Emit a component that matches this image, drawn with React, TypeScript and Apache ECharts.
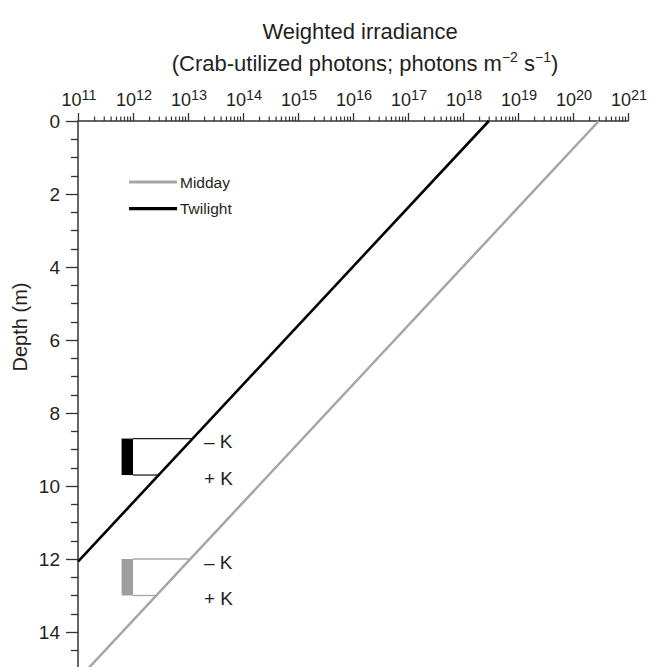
import React, { useEffect, useRef } from 'react';
import * as echarts from 'echarts';

const FONT = '"Liberation Sans", Arial, Helvetica, sans-serif';
const TEXT = '#231f20';
const AXIS = '#333333';

const seriesNames = ['Midday', 'Twilight'];
const seriesColors = ['#a6a6a6', '#000000'];
const twilightIrradiance = [2.95e18, 1e11];
const twilightDepth = [0, 12.07];
const middayIrradiance = [2.95e20, 1e11];
const middayDepth = [0, 15.3];

const kBarIrradiance = [6.2e11, 1e12];
const twilightKDepth = [8.7, 9.7];
const middayKDepth = [12.0, 13.0];
const kLabels = ['\u2013 K', '+ K'];

const xMin = 1e11;
const xMax = 1e21;
const yMin = 0;
const yMax = 16;
const yInterval = 2;
const xTickExponents = [11, 12, 13, 14, 15, 16, 17, 18, 19, 20, 21];

const minorTickValues: number[] = [];
for (let e = 11; e < 21; e++) {
  for (let m = 2; m <= 9; m++) minorTickValues.push(m * Math.pow(10, e));
}

function irrAtDepth(irr: number[], depth: number[], z: number) {
  const l0 = Math.log10(irr[0]);
  const l1 = Math.log10(irr[1]);
  const t = (z - depth[0]) / (depth[1] - depth[0]);
  return Math.pow(10, l0 + t * (l1 - l0));
}

export default function App() {
  const ref = useRef<HTMLDivElement>(null);
  useEffect(() => {
    if (!ref.current) return;
    const chart = echarts.init(ref.current, undefined, { renderer: 'svg' });
    const bracketData = [
      [kBarIrradiance[0], kBarIrradiance[1], twilightKDepth[0], twilightKDepth[1], 0],
      [kBarIrradiance[0], kBarIrradiance[1], middayKDepth[0], middayKDepth[1], 1],
    ];
    const legendTops = [169, 195.6];
    const option: any = {
      animation: false,
      textStyle: { fontFamily: FONT },
      grid: { left: 78, right: 23, top: 121, height: 584, outerBoundsMode: 'none' },
      legend: seriesNames.map((n, i) => ({
        data: [{ name: n, icon: 'rect' }],
        orient: 'vertical',
        left: 124,
        top: legendTops[i],
        itemWidth: 48,
        itemHeight: 3.2,
        itemStyle: { color: seriesColors[i], borderWidth: 0 },
        textStyle: { fontSize: 15.5, color: TEXT, fontFamily: FONT, padding: [0, 0, 0, -2] },
      })),
      graphic: [
        {
          type: 'text',
          x: 360,
          y: 31,
          style: {
            text: 'Weighted irradiance',
            align: 'center',
            verticalAlign: 'middle',
            fontSize: 22,
            fontFamily: FONT,
            fill: TEXT,
          },
        },
        {
          type: 'text',
          x: 365,
          y: 63,
          style: {
            text: '(Crab-utilized photons; photons m{s|\u22122} s{s|\u22121})',
            align: 'center',
            verticalAlign: 'middle',
            fontSize: 22,
            lineHeight: 26,
            fontFamily: FONT,
            fill: TEXT,
            rich: {
              s: { fontSize: 14, lineHeight: 16, verticalAlign: 'top', fontFamily: FONT, fill: TEXT },
            },
          },
        },
        {
          type: 'text',
          x: 20,
          y: 327,
          rotation: Math.PI / 2,
          style: {
            text: 'Depth (m)',
            align: 'center',
            verticalAlign: 'middle',
            fontSize: 20,
            fontFamily: FONT,
            fill: TEXT,
          },
        },
      ],
      xAxis: {
        type: 'log',
        logBase: 10,
        position: 'top',
        min: xMin,
        max: xMax,
        interval: 1,
        axisLine: { show: true, lineStyle: { color: AXIS, width: 1.5 } },
        axisTick: { show: true, length: 8, lineStyle: { color: AXIS, width: 1.3 } },
        splitLine: { show: false },
        axisLabel: { show: false },
      },
      yAxis: {
        type: 'value',
        inverse: true,
        min: yMin,
        max: yMax,
        interval: yInterval,
        axisLine: { show: true, lineStyle: { color: AXIS, width: 1.5 } },
        axisTick: { show: true, length: 12, lineStyle: { color: AXIS, width: 1.3 } },
        minorTick: { show: true, splitNumber: 4, length: 7, lineStyle: { color: AXIS, width: 1.3 } },
        splitLine: { show: false },
        minorSplitLine: { show: false },
        axisLabel: { margin: 18, fontSize: 19, color: TEXT, fontFamily: FONT, showMaxLabel: false },
      },
      series: [
        {
          name: 'Midday',
          type: 'line',
          data: middayIrradiance.map((v, i) => [v, middayDepth[i]]),
          symbol: 'none',
          lineStyle: { color: seriesColors[0], width: 2.5 },
          itemStyle: { color: seriesColors[0] },
          z: 3,
        },
        {
          name: 'Twilight',
          type: 'line',
          data: twilightIrradiance.map((v, i) => [v, twilightDepth[i]]),
          symbol: 'none',
          lineStyle: { color: seriesColors[1], width: 2.6 },
          itemStyle: { color: seriesColors[1] },
          z: 3,
        },
        {
          name: 'minorTicks',
          type: 'custom',
          silent: true,
          clip: false,
          data: minorTickValues.map((v) => [v, 0]),
          renderItem: (params: any, api: any) => {
            const p = api.coord([api.value(0), api.value(1)]);
            return {
              type: 'line',
              shape: { x1: p[0], y1: p[1], x2: p[0], y2: p[1] - 4.5 },
              style: { stroke: AXIS, lineWidth: 1.2 },
            };
          },
        },
        {
          name: 'xLabels',
          type: 'custom',
          silent: true,
          clip: false,
          data: xTickExponents.map((e) => [Math.pow(10, e), 0, e]),
          renderItem: (params: any, api: any) => {
            const p = api.coord([api.value(0), api.value(1)]);
            const e = api.value(2);
            return {
              type: 'text',
              x: p[0] + 1,
              y: p[1] - 21,
              style: {
                legacy: false,
                text: `10{s|${e}}`,
                align: 'center',
                verticalAlign: 'middle',
                fontSize: 18,
                lineHeight: 26,
                fontFamily: FONT,
                fill: TEXT,
                rich: {
                  s: { fontSize: 14.5, lineHeight: 14, verticalAlign: 'top', fontFamily: FONT, fill: TEXT },
                },
              },
            };
          },
        },
        {
          name: 'brackets',
          type: 'custom',
          silent: true,
          clip: false,
          encode: { x: [0, 1], y: [2, 3] },
          data: bracketData,
          renderItem: (params: any, api: any) => {
            const left = api.value(0);
            const right = api.value(1);
            const top = api.value(2);
            const bot = api.value(3);
            const g = api.value(4);
            const irr = g === 0 ? twilightIrradiance : middayIrradiance;
            const dep = g === 0 ? twilightDepth : middayDepth;
            const pTL = api.coord([left, top]);
            const pBR = api.coord([right, bot]);
            const pTop = api.coord([irrAtDepth(irr, dep, top), top]);
            const pBot = api.coord([irrAtDepth(irr, dep, bot), bot]);
            const fill = g === 0 ? '#000000' : '#9e9e9e';
            const stroke = g === 0 ? '#222222' : '#a8a8a8';
            const labelX = pBR[0] + 71;
            const ts = { legacy: false, fontSize: 19, fontFamily: FONT, fill: TEXT, align: 'left', verticalAlign: 'middle' };
            return {
              type: 'group',
              children: [
                {
                  type: 'rect',
                  shape: { x: pTL[0], y: pTL[1], width: pBR[0] - pTL[0], height: pBR[1] - pTL[1] },
                  style: { fill },
                },
                {
                  type: 'line',
                  shape: { x1: pBR[0], y1: pTL[1], x2: pTop[0], y2: pTop[1] },
                  style: { stroke, lineWidth: 1.3 },
                },
                {
                  type: 'line',
                  shape: { x1: pBR[0], y1: pBR[1], x2: pBot[0], y2: pBot[1] },
                  style: { stroke, lineWidth: 1.3 },
                },
                { type: 'text', x: labelX, y: pTL[1] + 3, style: { ...ts, text: kLabels[0] } },
                { type: 'text', x: labelX, y: pBR[1] + 3, style: { ...ts, text: kLabels[1] } },
              ],
            };
          },
        },
      ],
    };
    chart.setOption(option);
    return () => chart.dispose();
  }, []);
  return (
    <div
      ref={ref}
      style={{ position: 'absolute', left: 0, top: 0, width: 651, height: 667, overflow: 'hidden' }}
    />
  );
}
